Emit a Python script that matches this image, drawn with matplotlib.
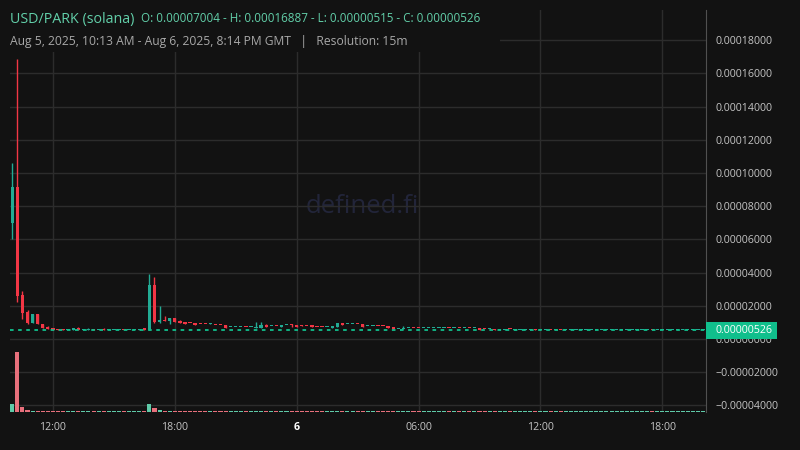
import matplotlib.pyplot as plt
from matplotlib.patches import Rectangle
import numpy as np
import pandas as pd

plt.rcParams['font.family'] = ['Open Sans', 'DejaVu Sans']

BG = '#121212'
GRID = '#2c2c2c'
UP = '#22ab94'
DOWN = '#f23645'
VOL_UP = '#5fcaa8'
VOL_DOWN = '#e8707c'
LAST = '#10bf8c'
TITLE = '#62cfa9'
TXT = '#c4c4c4'

# 15 minute candles, prices in units of 1e-6 USD
times = pd.date_range('2025-08-05 10:00', '2025-08-06 20:00', freq='15min')

opens = [
    70.04, 91.6, 26.5, 16.3, 9.6, 15.0, 9.0, 7.2, 6.8, 5.9,
    5.8, 5.4, 5.2, 6.6, 5.2, 5.4, 5.8, 5.3, 5.5, 5.3,
    5.3, 5.3, 5.5, 5.3, 5.4, 5.2, 6.4, 5.4, 32.5, 10.4,
    11.4, 10.8, 12.7, 10.8, 10.2, 9.7, 9.8, 9.1, 9.1, 9.2,
    8.5, 8.3, 8.4, 7.0, 7.0, 7.0, 7.1, 7.0, 6.9, 6.8,
    8.6, 7.8, 7.9, 7.4, 8.4, 8.3, 8.4, 8.0, 7.9, 8.2,
    7.3, 7.3, 7.2, 6.8, 7.4, 9.6, 8.8, 8.8, 8.9, 9.0,
    7.6, 7.6, 7.9, 7.9, 7.8, 7.2, 6.2, 6.2, 6.4, 6.5,
    6.5, 6.4, 6.4, 6.4, 6.4, 6.4, 6.5, 6.4, 6.5, 6.4,
    6.5, 6.4, 6.45, 5.9, 5.8, 5.85, 5.2, 5.25, 5.9, 5.25,
    5.2, 5.25, 5.2, 5.85, 5.2, 5.2, 5.3, 5.15, 5.3, 5.15,
    5.2, 5.15, 5.2, 5.15, 5.2, 5.15, 5.2, 5.2, 5.25, 5.2,
    5.2, 5.25, 5.2, 5.2, 5.25, 5.2, 5.3, 5.2, 5.2, 5.25,
    5.2, 5.2, 5.25, 5.2, 5.2, 5.25, 5.2,
]
highs = [
    106.0, 168.87, 28.9, 17.5, 15.0, 15.0, 9.0, 7.8, 6.8, 5.9,
    5.8, 5.6, 6.4, 7.0, 5.8, 6.4, 5.8, 5.5, 6.8, 5.4,
    5.4, 5.4, 5.5, 5.4, 5.6, 6.1, 6.8, 39.0, 37.5, 19.9,
    13.9, 12.7, 12.7, 11.4, 10.2, 9.7, 9.8, 9.1, 9.1, 9.8,
    8.5, 8.3, 8.4, 7.1, 7.1, 7.1, 7.1, 7.1, 10.2, 10.2,
    9.2, 7.9, 7.9, 8.6, 8.5, 9.2, 8.4, 8.6, 7.9, 8.6,
    7.3, 7.3, 7.3, 8.0, 9.6, 9.6, 8.9, 8.9, 8.9, 9.0,
    7.7, 7.7, 7.9, 7.9, 7.8, 7.2, 6.3, 7.8, 6.5, 6.5,
    6.5, 6.5, 6.5, 6.5, 6.5, 6.5, 6.5, 6.5, 6.5, 6.5,
    6.5, 6.5, 6.5, 5.9, 5.9, 5.85, 5.3, 5.85, 5.9, 5.85,
    5.3, 5.85, 5.3, 5.85, 5.3, 5.3, 5.3, 5.3, 5.3, 5.3,
    5.3, 5.25, 5.3, 5.3, 5.3, 5.25, 5.3, 5.3, 5.3, 5.3,
    5.3, 5.3, 5.3, 5.3, 5.3, 5.3, 5.3, 5.3, 5.3, 5.3,
    5.3, 5.3, 5.3, 5.3, 5.3, 5.3, 5.3,
]
lows = [
    60.0, 22.3, 12.0, 9.0, 9.6, 9.0, 6.6, 6.0, 5.4, 5.6,
    5.6, 5.4, 5.2, 5.5, 5.2, 5.15, 5.15, 5.3, 5.4, 5.3,
    5.3, 5.3, 5.4, 5.3, 5.4, 5.15, 5.15, 5.2, 9.8, 9.8,
    10.8, 9.0, 10.4, 9.6, 9.2, 9.5, 8.4, 9.0, 9.0, 9.2,
    8.4, 8.2, 6.8, 7.0, 7.0, 7.0, 7.0, 7.0, 6.8, 6.8,
    7.2, 7.8, 7.8, 7.4, 8.4, 7.2, 7.2, 7.6, 7.8, 7.0,
    7.2, 7.2, 7.2, 6.8, 7.4, 8.6, 8.8, 8.8, 8.8, 7.2,
    7.6, 7.6, 7.8, 7.8, 6.8, 6.2, 6.2, 6.2, 6.4, 6.4,
    6.4, 6.4, 6.4, 6.4, 6.4, 6.4, 6.4, 6.4, 6.4, 6.4,
    6.4, 6.4, 5.2, 5.8, 5.8, 5.25, 5.2, 5.25, 5.8, 5.25,
    5.2, 5.25, 5.2, 5.25, 5.2, 5.2, 5.15, 5.15, 5.15, 5.15,
    5.2, 5.15, 5.2, 5.15, 5.2, 5.15, 5.2, 5.2, 5.25, 5.2,
    5.2, 5.25, 5.2, 5.2, 5.25, 5.2, 5.2, 5.2, 5.2, 5.25,
    5.2, 5.2, 5.25, 5.2, 5.2, 5.25, 5.2,
]
closes = [
    91.6, 25.9, 15.7, 9.6, 15.0, 9.0, 6.6, 6.0, 5.4, 5.6,
    5.6, 5.5, 6.4, 5.5, 5.8, 5.6, 5.15, 5.4, 5.4, 5.4,
    5.4, 5.4, 5.4, 5.4, 5.6, 6.1, 5.15, 32.5, 10.4, 11.4,
    10.8, 12.7, 10.4, 9.6, 9.2, 9.5, 8.4, 9.0, 9.0, 9.5,
    8.4, 8.2, 6.8, 7.1, 7.1, 7.1, 7.0, 7.1, 7.2, 8.4,
    7.2, 7.9, 7.8, 8.6, 8.5, 8.2, 7.2, 7.6, 7.8, 7.0,
    7.2, 7.2, 7.3, 8.0, 9.6, 8.6, 8.9, 8.9, 8.8, 7.2,
    7.7, 7.7, 7.8, 7.8, 6.8, 6.2, 6.3, 6.6, 6.5, 6.4,
    6.4, 6.5, 6.5, 6.5, 6.5, 6.5, 6.4, 6.5, 6.4, 6.5,
    6.4, 6.5, 5.2, 5.8, 5.9, 5.25, 5.3, 5.85, 5.8, 5.85,
    5.3, 5.85, 5.3, 5.25, 5.3, 5.3, 5.15, 5.2, 5.15, 5.25,
    5.3, 5.2, 5.3, 5.25, 5.3, 5.2, 5.3, 5.25, 5.3, 5.3,
    5.3, 5.3, 5.3, 5.25, 5.3, 5.3, 5.2, 5.3, 5.25, 5.3,
    5.25, 5.3, 5.3, 5.25, 5.3, 5.3, 5.26,
]
# relative volume (largest candle = 100)
volumes = [
    13, 100, 8, 3, 2.2, 2.4, 2.2, 2.1, 2.0, 2.0,
    2.0, 2.1, 2.2, 2.1, 2.0, 2.0, 2.1, 2.0, 2.1, 2.0,
    2.0, 2.0, 2.1, 2.0, 2.1, 2.1, 2.2, 13, 7, 3,
    2.4, 2.2, 2.2, 2.1, 2.1, 2.1, 2.1, 2.0, 2.0, 2.1,
    2.0, 2.0, 2.1, 2.0, 2.0, 2.0, 2.0, 2.0, 2.1, 2.1,
    2.1, 2.0, 2.0, 2.1, 2.0, 2.1, 2.1, 2.0, 2.0, 2.1,
    2.0, 2.0, 2.0, 2.1, 2.1, 2.1, 2.0, 2.0, 2.0, 2.1,
    2.0, 2.0, 2.0, 2.0, 2.1, 2.1, 2.0, 2.1, 2.0, 2.0,
    2.0, 2.0, 2.0, 2.0, 2.0, 2.0, 2.0, 2.0, 2.0, 2.0,
    2.0, 2.0, 2.1, 2.0, 2.0, 2.1, 2.0, 2.0, 2.0, 2.0,
    2.0, 2.0, 2.0, 2.0, 2.0, 2.0, 2.1, 2.0, 2.1, 2.0,
    2.0, 2.0, 2.0, 2.0, 2.0, 2.0, 2.0, 2.0, 2.0, 2.0,
    2.0, 2.0, 2.0, 2.0, 2.0, 2.0, 2.0, 2.0, 2.0, 2.0,
    2.0, 2.0, 2.0, 2.0, 2.0, 2.0, 2.0,
]
yticks = [-0.00004, -0.00002, 0.0, 0.00002, 0.00004, 0.00006, 0.00008,
          0.00010, 0.00012, 0.00014, 0.00016, 0.00018]

o = np.array(opens) * 1e-6
h = np.array(highs) * 1e-6
l = np.array(lows) * 1e-6
c = np.array(closes) * 1e-6
x = np.arange(len(times))
up = c >= o

fig = plt.figure(figsize=(8, 4.5), dpi=100, facecolor=BG)
ax = fig.add_axes([10 / 800, 38 / 450, 696 / 800, 402 / 450])
ax.set_facecolor(BG)

# volume at the bottom of the pane, own scale
ax.bar(x, np.array(volumes) / 671, width=0.8, bottom=0,
       color=np.where(up, VOL_UP, VOL_DOWN), transform=ax.get_xaxis_transform(), zorder=1)

# candles
ax.vlines(x, l, h, colors=np.where(up, UP, DOWN), lw=1, zorder=2)
body = np.maximum(np.abs(c - o), 0.6e-6)
ax.bar(x, body, bottom=np.minimum(o, c), width=0.65, color=np.where(up, UP, DOWN), zorder=3)

# last price line + label
ax.axhline(c[-1], color=LAST, lw=1.3, ls=(0, (2, 2.5)), zorder=4)
ax.add_patch(Rectangle((1.0, c[-1] - 8.5 * 6.024e-7), 71 / 696, 17 * 6.024e-7,
                       transform=ax.get_yaxis_transform(), fc=LAST, ec='none',
                       clip_on=False, zorder=5))
ax.text(1.0 + 10 / 696, c[-1], f'{c[-1]:.8f}', transform=ax.get_yaxis_transform(),
        color='white', fontsize=7.7, va='center', ha='left', zorder=6)

ax.set_xlim(-0.45, 136.6)
ax.set_ylim(-4.40e-5, 1.982e-4)

ax.yaxis.tick_right()
ax.set_yticks(yticks)
ax.set_yticklabels([f'{v:.8f}'.replace('-', '\u2212') for v in yticks])
ax.tick_params(axis='y', colors=TXT, labelsize=7.7, length=0, pad=7)

xt = [i for i, t in enumerate(times) if t.minute == 0 and t.hour % 6 == 0]
ax.set_xticks(xt)
ax.set_xticklabels([str(times[i].day) if times[i].hour == 0 else times[i].strftime('%H:%M')
                    for i in xt])
ax.tick_params(axis='x', colors=TXT, labelsize=7.7, length=0, pad=7)
for lab, i in zip(ax.get_xticklabels(), xt):
    if times[i].hour == 0:
        lab.set_fontweight('bold')
        lab.set_color('white')

ax.grid(True, color=GRID, lw=1)
ax.set_axisbelow(True)
for s in ['top', 'left', 'bottom']:
    ax.spines[s].set_visible(False)
ax.spines['right'].set_color('#505050')

ax.text(0.506, 0.51, 'defined.fi', transform=ax.transAxes, color='#22253a',
        fontsize=18.5, ha='center', va='center', zorder=0.5)

# legend block
fig.add_artist(Rectangle((0, 1 - 52 / 450), 500 / 800, 52 / 450, transform=fig.transFigure,
                         fc=BG, ec='none', zorder=3))
fig.text(10 / 800, 1 - 19 / 450, 'USD/PARK (solana)', color=TITLE, fontsize=10.3,
         va='center', zorder=4)
ohlc = (f'O: {o[0]:.8f} - H: {h.max():.8f} - L: {l.min():.8f} - C: {c[-1]:.8f}')
fig.text(141 / 800, 1 - 19 / 450, ohlc, color=TITLE, fontsize=8.4, va='center', zorder=4)
fig.text(10 / 800, 1 - 41 / 450,
         'Aug 5, 2025, 10:13 AM - Aug 6, 2025, 8:14 PM GMT   |   Resolution: 15m',
         color='#a8a8a8', fontsize=8.7, va='center', zorder=4)

fig.savefig('out.png', dpi=100, facecolor=BG)
